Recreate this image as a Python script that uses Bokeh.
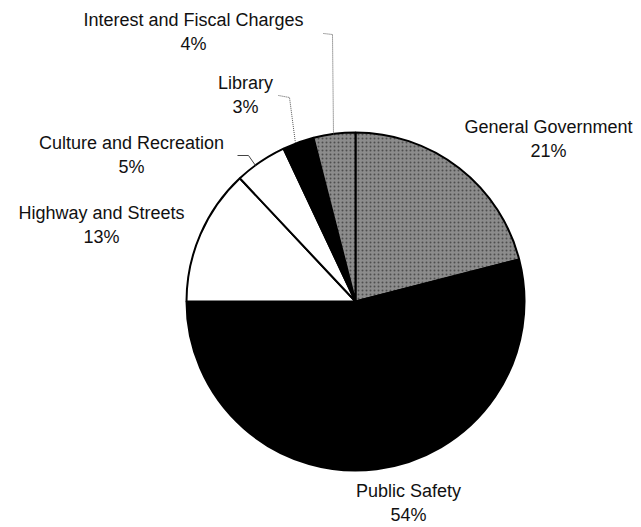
import math
from bokeh.plotting import figure
from bokeh.models import ColumnDataSource
from bokeh.core.properties import value
from bokeh.embed import file_html
from bokeh.resources import INLINE

# ---- data (clockwise from 12 o'clock) ----
categories = ["General Government", "Public Safety", "Highway and Streets",
              "Culture and Recreation", "Library", "Interest and Fiscal Charges"]
percents = [21, 54, 13, 5, 3, 4]
fills = ["#8c8c8c", "#000000", "#ffffff", "#ffffff", "#000000", "#8c8c8c"]
hatches = ["dot", " ", " ", " ", " ", "dot"]

W, H = 641, 527
def Y(py):
    return H - py

cx, cy, r = 355, Y(301), 169

starts, ends = [], []
cum = 0
for pct in percents:
    a0 = math.radians(90 - cum * 3.6)
    cum += pct
    a1 = math.radians(90 - cum * 3.6)
    starts.append(a0)
    ends.append(a1)

p = figure(width=W, height=H, x_range=(0, W), y_range=(0, H),
           x_axis_type=None, y_axis_type=None, toolbar_location=None,
           output_backend="svg", min_border=0, outline_line_color=None,
           background_fill_color="white", border_fill_color="white")
p.grid.visible = False

src = ColumnDataSource(dict(start=starts, end=ends, fill=fills, hatch=hatches,
                            cat=categories, pct=percents))
p.wedge(x=cx, y=cy, radius=r, start_angle="start", end_angle="end",
        direction="clock", source=src, fill_color="fill",
        hatch_pattern="hatch", hatch_color="#333333", hatch_scale=4,
        hatch_weight=1.2, hatch_alpha=0.7,
        line_color="black", line_width=2)

# ---- labels ----
label_pos = {
    "General Government": (548, 126),
    "Public Safety": (408, 490),
    "Highway and Streets": (101, 212),
    "Culture and Recreation": (131, 142),
    "Library": (245, 82),
    "Interest and Fiscal Charges": (193, 19),
}
lx = [label_pos[c][0] for c in categories]
ly1 = [Y(label_pos[c][1]) for c in categories]
ly2 = [Y(label_pos[c][1] + 24) for c in categories]
pct_txt = [f"{v}%" for v in percents]

p.text(x=lx, y=ly1, text=categories, text_align="center", text_baseline="middle",
       text_font=value("Liberation Sans"), text_font_size="18px", text_color="#111111")
p.text(x=lx, y=ly2, text=pct_txt, text_align="center", text_baseline="middle",
       text_font=value("Liberation Sans"), text_font_size="18px", text_color="#111111")

# ---- leader lines ----
p.line(x=[323, 332, 333], y=[Y(33), Y(34), Y(135)], line_color="#555555",
       line_width=1, line_dash="1 1")
p.line(x=[278, 289, 295], y=[Y(95), Y(97), Y(143)], line_color="#555555",
       line_width=1, line_dash="1 1")
p.line(x=[237, 248, 255], y=[Y(155), Y(155), Y(165)], line_color="#444444",
       line_width=1)

open("out.html", "w").write(file_html(p, INLINE))
